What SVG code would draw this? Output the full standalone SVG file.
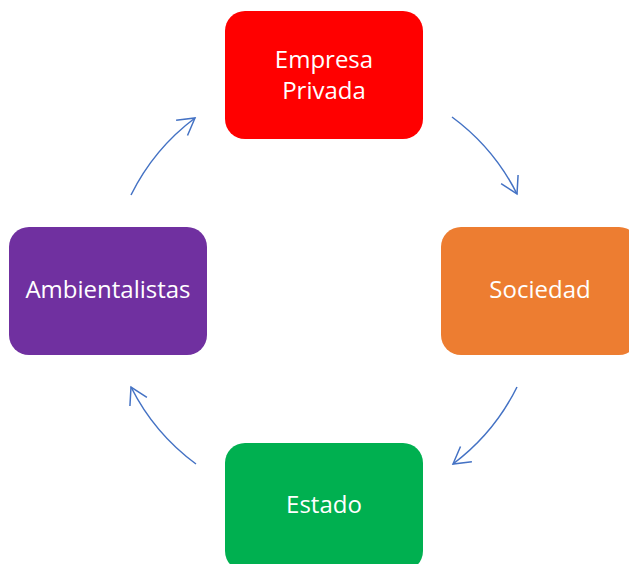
<svg xmlns="http://www.w3.org/2000/svg" width="629" height="564" viewBox="0 0 629 564">
  <style>
    .lbl { font-family: "Open Sans", "Liberation Sans", sans-serif; font-size: 24px; fill: #ffffff; text-anchor: middle; }
    .conn { fill: none; stroke: #4472C4; stroke-width: 1.5; }
  </style>
  <defs>
    <marker id="arr" markerUnits="userSpaceOnUse" markerWidth="40" markerHeight="40" viewBox="-20 -20 40 40" refX="0" refY="0" orient="auto">
      <path d="M -16.5 -9.5 L 0 0 L -16.5 9.5" fill="none" stroke="#4472C4" stroke-width="1.5"/>
    </marker>
  </defs>
  <rect width="629" height="564" fill="#ffffff"/>
  <g id="empresa-privada">
    <rect x="225" y="11" width="198" height="128" rx="20" ry="20" fill="#FF0000"/>
    <text class="lbl" x="324" y="68">Empresa</text>
    <text class="lbl" x="324" y="99">Privada</text>
  </g>
  <g id="sociedad">
    <rect x="441" y="227" width="198" height="128" rx="20" ry="20" fill="#ED7D31"/>
    <text class="lbl" x="540" y="298">Sociedad</text>
  </g>
  <g id="estado">
    <rect x="225" y="443" width="198" height="128" rx="20" ry="20" fill="#00B050"/>
    <text class="lbl" x="324" y="513">Estado</text>
  </g>
  <g id="ambientalistas">
    <rect x="9" y="227" width="198" height="128" rx="20" ry="20" fill="#7030A0"/>
    <text class="lbl" x="108" y="298">Ambientalistas</text>
  </g>
  <g id="connectors">
    <path class="conn" d="M 452 117 A 216 216 0 0 1 517 194" marker-end="url(#arr)"/>
    <path class="conn" d="M 517 387 A 216 216 0 0 1 453 464" marker-end="url(#arr)"/>
    <path class="conn" d="M 196 464 A 216 216 0 0 1 131 387" marker-end="url(#arr)"/>
    <path class="conn" d="M 131 195 A 216 216 0 0 1 195 118" marker-end="url(#arr)"/>
  </g>
</svg>
